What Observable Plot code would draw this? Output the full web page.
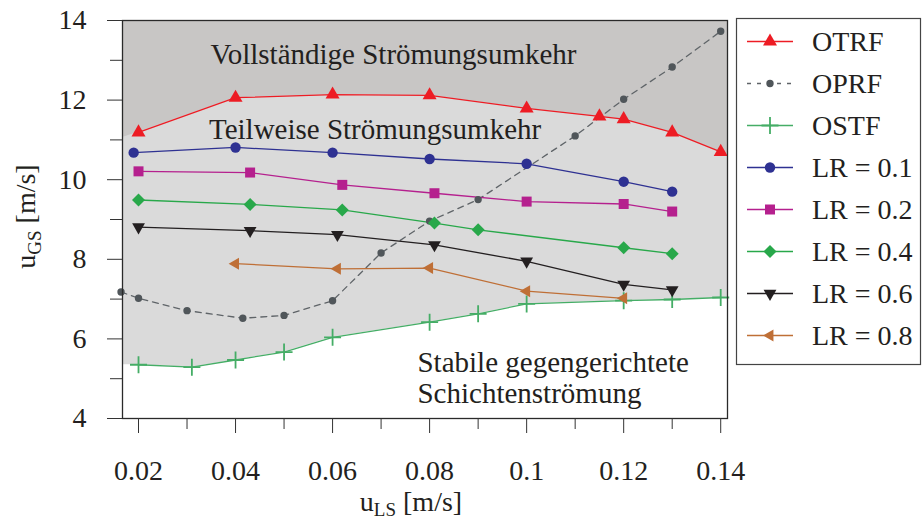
<!DOCTYPE html>
<html><head><meta charset="utf-8">
<script src="https://cdn.jsdelivr.net/npm/d3@7"></script>
<script src="https://cdn.jsdelivr.net/npm/@observablehq/plot@0.6"></script>
<style>
html,body{margin:0;padding:0;background:#fff;}
#chart{width:922px;height:522px;position:relative;}
</style></head><body><div id="chart"></div>
<script>
// ---- data ----
const otrfX = [0.02, 0.04, 0.06, 0.08, 0.10, 0.115, 0.12, 0.13, 0.14];
const otrfY = [11.19, 12.06, 12.14, 12.12, 11.79, 11.59, 11.52, 11.19, 10.70];
const oprfX = [0.0164, 0.02, 0.03, 0.0415, 0.05, 0.06, 0.07, 0.08, 0.09, 0.11, 0.12, 0.13, 0.14];
const oprfY = [7.18, 7.02, 6.71, 6.52, 6.59, 6.96, 8.16, 8.96, 9.50, 11.10, 12.02, 12.83, 13.73];
const ostfX = [0.02, 0.031, 0.04, 0.05, 0.06, 0.08, 0.09, 0.10, 0.12, 0.13, 0.14];
const ostfY = [5.35, 5.29, 5.47, 5.67, 6.04, 6.42, 6.63, 6.88, 6.96, 6.99, 7.04];
const lr01X = [0.019, 0.04, 0.06, 0.08, 0.10, 0.12, 0.13];
const lr01Y = [10.68, 10.81, 10.68, 10.52, 10.40, 9.95, 9.70];
const lr02X = [0.02, 0.043, 0.062, 0.081, 0.10, 0.12, 0.13];
const lr02Y = [10.21, 10.18, 9.87, 9.66, 9.45, 9.39, 9.20];
const lr04X = [0.02, 0.043, 0.062, 0.081, 0.09, 0.12, 0.13];
const lr04Y = [9.49, 9.38, 9.24, 8.91, 8.74, 8.29, 8.14];
const lr06X = [0.02, 0.043, 0.061, 0.081, 0.10, 0.12, 0.13];
const lr06Y = [8.81, 8.72, 8.62, 8.36, 7.95, 7.37, 7.23];
const lr08X = [0.04, 0.061, 0.08, 0.10, 0.12];
const lr08Y = [7.89, 7.76, 7.78, 7.20, 7.02];

// region boundaries at the frame edges (upper = OTRF extended, lower = OSTF extended)
const xDomain = [0.0167, 0.1414];
const upperEdgeY = [11.06, 10.63];
const lowerEdgeY = [5.35, 7.05];

const seriesNames = ["OTRF", "OPRF", "OSTF", "LR = 0.1", "LR = 0.2", "LR = 0.4", "LR = 0.6", "LR = 0.8"];
const seriesColors = ["#ed1c24", "#5f6468", "#45ad66", "#2e3192", "#b5208e", "#28a84a", "#231f20", "#bf6f36"];
const markerColors = ["#ed1c24", "#50565a", "#45ad66", "#2e3192", "#b5208e", "#28a84a", "#231f20", "#bf6f36"];

const xMajorTicks = [0.02, 0.04, 0.06, 0.08, 0.10, 0.12, 0.14];
const xTickLabels = ["0.02", "0.04", "0.06", "0.08", "0.1", "0.12", "0.14"];
const xMinorTicks = [0.03, 0.05, 0.07, 0.09, 0.11, 0.13];
const yMajorTicks = [4, 6, 8, 10, 12, 14];
const yMinorTicks = [5, 7, 9, 11, 13];

const regionLabels = ["Vollständige Strömungsumkehr", "Teilweise Strömungsumkehr", "Stabile gegengerichtete", "Schichtenströmung"];

// ---- symbols (h = half size in px, Plot passes size = PI*r^2) ----
const hOf = s => Math.sqrt(s / Math.PI);
const symCircle = {draw(c, s){const h = hOf(s); c.moveTo(h, 0); c.arc(0, 0, h, 0, 2 * Math.PI);}};
const symSquare = {draw(c, s){const h = hOf(s); c.rect(-h, -h, 2 * h, 2 * h);}};
const symDiamond = {draw(c, s){const h = hOf(s); c.moveTo(0, -h); c.lineTo(h, 0); c.lineTo(0, h); c.lineTo(-h, 0); c.closePath();}};
const symUp = {draw(c, s){const h = hOf(s), H = h * Math.sqrt(3); c.moveTo(0, -2 * H / 3); c.lineTo(h, H / 3); c.lineTo(-h, H / 3); c.closePath();}};
const symDown = {draw(c, s){const h = hOf(s), H = h * Math.sqrt(3); c.moveTo(0, 2 * H / 3); c.lineTo(h, -H / 3); c.lineTo(-h, -H / 3); c.closePath();}};
const symLeft = {draw(c, s){const h = hOf(s), H = h * Math.sqrt(3); c.moveTo(-2 * H / 3, 0); c.lineTo(H / 3, -h); c.lineTo(H / 3, h); c.closePath();}};
const symPlus = {draw(c, s){const h = hOf(s); c.moveTo(-h, 0); c.lineTo(h, 0); c.moveTo(0, -h); c.lineTo(0, h);}};

const xs = [otrfX, oprfX, ostfX, lr01X, lr02X, lr04X, lr06X, lr08X];
const ys = [otrfY, oprfY, ostfY, lr01Y, lr02Y, lr04Y, lr06Y, lr08Y];
const symbols = [symUp, symCircle, symPlus, symCircle, symSquare, symDiamond, symDown, symLeft];
const radii = [7, 3.7, 8.5, 5.2, 5, 6.5, 6.4, 6];
const dashes = [null, "6,5", null, null, null, null, null, null];

const series = seriesNames.map((name, i) => ({
  name, color: seriesColors[i], mcolor: markerColors[i], symbol: symbols[i], r: radii[i], dash: dashes[i],
  rows: xs[i].map((x, j) => ({x, y: ys[i][j]}))
}));

const upperRegion = [{x: xDomain[0], y: upperEdgeY[0]}, ...series[0].rows, {x: xDomain[1], y: upperEdgeY[1]}];
const lowerRegion = [{x: xDomain[0], y: lowerEdgeY[0]}, ...series[2].rows, {x: xDomain[1], y: lowerEdgeY[1]}];

const FONT = "'Liberation Serif', 'Times New Roman', serif";
const ink = "#231f20";

const marks = [
  Plot.frame({fill: "#c8c6c5", stroke: "none"}),
  Plot.areaY(upperRegion, {x: "x", y1: () => 4, y2: "y", fill: "#dadada"}),
  Plot.areaY(lowerRegion, {x: "x", y1: () => 4, y2: "y", fill: "#ffffff"}),
  Plot.text([regionLabels[0]], {x: 0.03484, y: 12.91, text: d => d, textAnchor: "start", lineAnchor: "bottom", fontSize: 29, fill: ink}),
  Plot.text([regionLabels[1]], {x: 0.03452, y: 11.03, text: d => d, textAnchor: "start", lineAnchor: "bottom", fontSize: 29, fill: ink}),
  Plot.text([regionLabels[2]], {x: 0.0775, y: 5.163, text: d => d, textAnchor: "start", lineAnchor: "bottom", fontSize: 29, fill: ink}),
  Plot.text([regionLabels[3]], {x: 0.0775, y: 4.377, text: d => d, textAnchor: "start", lineAnchor: "bottom", fontSize: 29, fill: ink})
];
series.forEach(s => {
  marks.push(Plot.line(s.rows, {x: "x", y: "y", stroke: s.color, strokeWidth: 1.3, strokeDasharray: s.dash || undefined}));
});
series.forEach(s => {
  const isPlus = s.symbol === symPlus;
  marks.push(Plot.dot(s.rows, {x: "x", y: "y", r: s.r, symbol: s.symbol,
    fill: isPlus ? "none" : s.mcolor, stroke: isPlus ? s.mcolor : "none", strokeWidth: isPlus ? 1.8 : 0}));
});
marks.push(
  Plot.frame({stroke: "#2a2a2a", strokeWidth: 1.3}),
  Plot.axisX(xMajorTicks, {tickSize: 15, tickPadding: 27, tickFormat: d => xTickLabels[xMajorTicks.indexOf(d)], fontSize: 28, label: null, stroke: "#333"}),
  Plot.axisX(xMinorTicks, {tickSize: 11, tickFormat: () => "", label: null, stroke: "#333"}),
  Plot.axisY(yMajorTicks, {tickSize: 15, tickPadding: 21, tickFormat: d => String(d), fontSize: 28, label: null, stroke: "#333"}),
  Plot.axisY(yMinorTicks, {tickSize: 12, tickFormat: () => "", label: null, stroke: "#333"})
);

const chart = Plot.plot({
  width: 922, height: 522,
  marginLeft: 122, marginRight: 195, marginTop: 20, marginBottom: 104,
  x: {domain: xDomain},
  y: {domain: [4, 14]},
  style: {fontFamily: FONT, fontSize: "28px", color: ink, background: "white", overflow: "visible"},
  marks
});
document.getElementById("chart").appendChild(chart);

// ---- axis titles with subscripts ----
const svg = d3.select(chart);
const xt = svg.append("text").attr("x", 411).attr("y", 511).attr("text-anchor", "middle")
  .attr("font-family", FONT).attr("font-size", 28).attr("fill", ink);
xt.append("tspan").text("u");
xt.append("tspan").attr("font-size", 19).attr("dy", 5).text("LS");
xt.append("tspan").attr("dy", -5).text(" [m/s]");

const yt = svg.append("text").attr("transform", "translate(35,216.5) rotate(-90)").attr("text-anchor", "middle")
  .attr("font-family", FONT).attr("font-size", 28).attr("fill", ink);
yt.append("tspan").text("u");
yt.append("tspan").attr("font-size", 19).attr("dy", 6).text("GS");
yt.append("tspan").attr("dy", -6).text(" [m/s]");

// ---- legend ----
const lg = svg.append("g").attr("text-anchor", "start");
lg.append("rect").attr("x", 736.5).attr("y", 18.5).attr("width", 184).attr("height", 346)
  .attr("fill", "white").attr("stroke", "#444").attr("stroke-width", 1.2);
series.forEach((s, i) => {
  const cy = 41.5 + i * 42;
  lg.append("line").attr("x1", 747).attr("x2", 793).attr("y1", cy).attr("y2", cy)
    .attr("stroke", s.color).attr("stroke-width", 1.3).attr("stroke-dasharray", s.dash ? "4,6" : null);
  const isPlus = s.symbol === symPlus;
  lg.append("path").attr("transform", `translate(770,${cy})`)
    .attr("d", d3.symbol(s.symbol, Math.PI * s.r * s.r)())
    .attr("fill", isPlus ? "none" : s.mcolor).attr("stroke", isPlus ? s.mcolor : "none").attr("stroke-width", isPlus ? 1.8 : 0);
  lg.append("text").attr("x", 812).attr("y", cy).attr("dy", "0.33em").attr("text-anchor", "start")
    .attr("font-family", FONT).attr("font-size", 28).attr("fill", ink).text(s.name);
});
</script></body></html>
